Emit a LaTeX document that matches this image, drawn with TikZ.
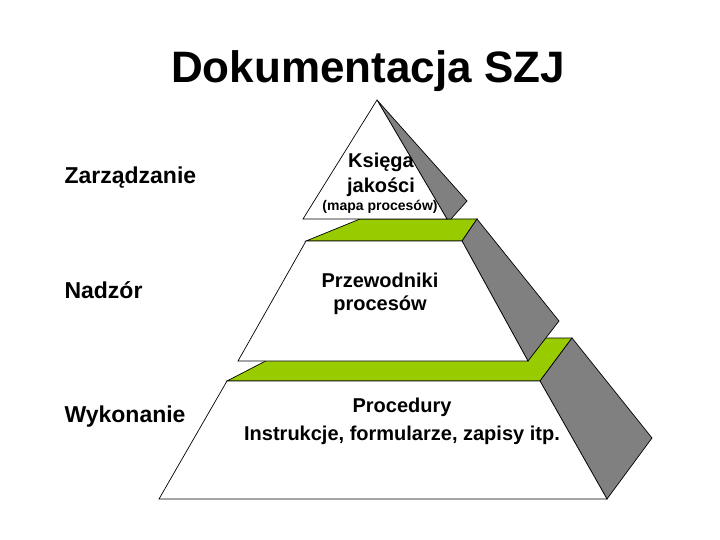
\documentclass[tikz,border=0pt]{standalone}
\usepackage{fontspec}
\setmainfont{Liberation Sans}
\usepackage{tikz}
\usetikzlibrary{calc}

\definecolor{topgreen}{RGB}{153,204,0}
\definecolor{sidegrey}{RGB}{128,128,128}

\begin{document}
\begin{tikzpicture}[x=1pt,y=-1pt,line join=miter]
        \tikzset{
            face/.style={draw=black, line width=0.7pt},
            level/.style={font=\fontsize{23}{27}\selectfont\bfseries, anchor=base west},
            inside/.style={align=center, anchor=base}
        }
        \useasboundingbox (0,0) rectangle (720,540);

        % Corners of the bottom layer
        \coordinate (A1) at (159,499);
        \coordinate (B1) at (607,499);
        \coordinate (C1) at (540,381);
        \coordinate (D1) at (227,381);
        \coordinate (E1) at (310,338);
        \coordinate (F1) at (572,338);
        \coordinate (G1) at (652,438);

        % Corners of the middle layer
        \coordinate (A2) at (238,361);
        \coordinate (B2) at (528,361);
        \coordinate (C2) at (462,241);
        \coordinate (D2) at (306,241);
        \coordinate (E2) at (360,219);
        \coordinate (F2) at (477,219);
        \coordinate (G2) at (559,321);

        % Corners of the top
        \coordinate (A3) at (303,219);
        \coordinate (B3) at (447,219);
        \coordinate (C3) at (377,100);
        \coordinate (D3) at (451,219);
        \coordinate (G3) at (467,201);

        % Bottom layer
        \filldraw[face, fill=topgreen] (D1) -- (E1) -- (F1) -- (C1) -- cycle;
        \filldraw[face, fill=sidegrey] (C1) -- (F1) -- (G1) -- (B1) -- cycle;
        \filldraw[face, fill=white] (A1) -- (B1) -- (C1) -- (D1) -- cycle;

        % Middle layer
        \filldraw[face, fill=topgreen] (D2) -- (E2) -- (F2) -- (C2) -- cycle;
        \filldraw[face, fill=sidegrey] (C2) -- (F2) -- (G2) -- (B2) -- cycle;
        \filldraw[face, fill=white] (A2) -- (B2) -- (C2) -- (D2) -- cycle;

        % Top
        \filldraw[face, fill=sidegrey] (C3) -- (G3) -- (D3) -- (B3) -- cycle;
        \filldraw[face, fill=white] (A3) -- (B3) -- (C3) -- cycle;

        % Title
        \node[font=\fontsize{44}{50}\selectfont\bfseries] (title) at (368,71) {Dokumentacja SZJ};

        % Level names
        \node[level] (zarz) at (61,184) {Zarządzanie};
        \node[level] (nadz) at (61,298) {Nadzór};
        \node[level] (wyk) at (61,422) {Wykonanie};

        % Texts inside the pyramid (anchored at the last baseline)
        \node[inside, font=\fontsize{20}{25}\selectfont\bfseries] (ksiega) at (381,193) {Księga\\jakości};
        \node[font=\fontsize{14}{16}\selectfont\bfseries, anchor=base] (mapa) at (380,211) {(mapa procesów)};
        \node[inside, font=\fontsize{20}{23}\selectfont\bfseries] (przew) at (380,310) {Przewodniki\\procesów};
        \node[inside, font=\fontsize{20}{28}\selectfont\bfseries] (proc) at (402,440) {Procedury\\Instrukcje, formularze, zapisy itp.};

\end{tikzpicture}
\end{document}
